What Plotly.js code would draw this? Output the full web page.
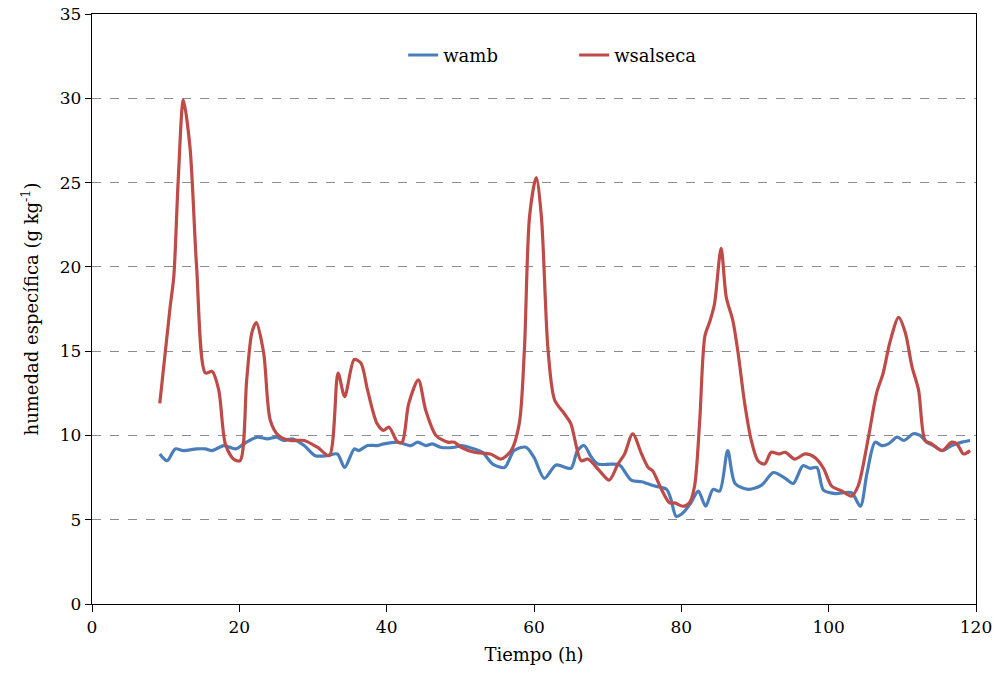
<!DOCTYPE html>
<html>
<head>
<meta charset="utf-8">
<script src="https://cdn.plot.ly/plotly-3.0.1.min.js"></script>
<style>html,body{margin:0;padding:0;background:#fff;}#chart{width:998px;height:682px;}</style>
</head>
<body>
<div id="chart"></div>
<script>
// wamb (ambient specific humidity)
const wambT = [9.2,10.2,11.3,12.4,14.2,15.4,16.3,17.9,19.5,20.6,22.4,23.8,25.1,26.0,27.2,28.8,30.3,31.9,33.3,34.3,35.6,36.2,37.4,38.7,39.6,41.5,43.3,44.2,45.3,46.2,47.3,49.2,50.1,51.9,53.0,54.4,56.0,57.3,58.9,60.0,61.4,63.0,65.0,65.9,66.8,67.8,68.7,70.5,71.6,73.2,74.6,76.4,78.0,78.6,79.3,80.2,81.3,82.3,83.3,84.3,85.2,86.3,87.3,89.1,90.9,92.5,94.1,95.2,96.5,97.5,98.4,99.3,100.9,103.1,104.3,105.2,106.3,107.2,108.1,109.3,110.2,111.5,112.4,113.3,114.2,115.4,116.7,118.1,119.2];
const wambV = [8.9,8.5,9.2,9.1,9.2,9.2,9.1,9.4,9.2,9.5,9.9,9.8,9.9,9.7,9.8,9.4,8.8,8.8,8.9,8.1,9.2,9.1,9.4,9.4,9.5,9.6,9.4,9.6,9.4,9.5,9.3,9.3,9.4,9.2,9.0,8.3,8.1,9.1,9.3,8.7,7.45,8.25,8.05,9.1,9.4,8.7,8.3,8.3,8.25,7.35,7.25,7.0,6.8,6.2,5.2,5.4,6.0,6.7,5.8,6.8,6.7,9.1,7.15,6.8,7.05,7.8,7.45,7.15,8.2,8.05,8.1,6.75,6.55,6.6,5.8,7.75,9.6,9.4,9.5,9.9,9.7,10.1,10.0,9.6,9.4,9.1,9.4,9.6,9.7];
// wsalseca (dryer outlet specific humidity)
const wsalT = [9.2,10.6,11.1,11.7,12.4,13.3,14.2,15.4,16.3,17.2,18.1,19.2,20.1,21.0,21.7,22.3,23.3,24.2,25.3,26.9,28.8,30.6,32.2,33.4,34.3,35.6,36.5,37.4,38.7,39.6,40.3,41.5,42.1,43.0,44.3,45.3,46.7,48.3,49.2,50.1,51.9,54.1,55.5,56.9,58.0,58.7,59.4,60.3,61.0,61.9,62.8,64.1,65.0,66.4,67.3,68.9,70.2,71.4,72.3,73.4,74.6,75.5,76.1,77.3,78.4,79.1,80.2,81.1,81.8,82.5,83.2,83.9,84.5,85.4,86.1,87.0,87.7,88.6,89.5,90.4,91.3,92.2,93.2,94.1,95.4,96.8,98.1,99.3,100.4,101.8,103.1,104.0,105.4,106.5,107.4,108.3,109.5,110.4,111.3,112.2,113.1,114.0,115.4,116.7,117.4,118.3,119.2];
const wsalV = [11.9,17.6,19.4,25.1,29.9,27.1,20.0,13.7,13.8,12.7,9.5,8.6,8.5,13.3,16.1,16.7,14.9,10.9,10.0,9.7,9.7,9.3,8.8,13.7,12.3,14.5,14.3,12.7,10.7,10.3,10.5,9.6,9.6,11.9,13.3,11.5,10.0,9.6,9.6,9.3,9.0,8.9,8.6,9.1,10.7,15.1,23.0,25.3,23.0,15.1,12.1,11.3,10.7,8.5,8.6,7.9,7.35,8.3,8.9,10.1,8.9,8.1,7.9,6.8,6.0,6.0,5.8,6.0,7.0,10.9,15.9,16.8,17.8,21.1,18.2,16.8,14.9,11.9,9.7,8.5,8.3,9.0,8.9,9.0,8.6,8.9,8.7,8.05,7.0,6.7,6.4,7.0,9.9,12.5,13.7,15.5,17.0,16.1,14.1,12.7,9.7,9.5,9.1,9.6,9.5,8.9,9.1];
const xTicks = [0,20,40,60,80,100,120];
const yTicks = [0,5,10,15,20,25,30,35];

const fontFam = 'DejaVu Serif';
const traces = [
  {x: wambT, y: wambV, name: 'wamb', mode: 'lines', line: {color: '#4A7EBB', width: 3.2, shape: 'spline', smoothing: 0.8}},
  {x: wsalT, y: wsalV, name: 'wsalseca', mode: 'lines', line: {color: '#BE4B48', width: 3.2, shape: 'spline', smoothing: 0.8}}
];
const layout = {
  width: 998, height: 682,
  margin: {l: 92, r: 22, t: 14, b: 78},
  paper_bgcolor: '#fff', plot_bgcolor: '#fff',
  font: {family: fontFam, size: 17, color: '#000'},
  showlegend: true,
  legend: {orientation: 'h', x: 0.352, xanchor: 'left', y: 0.93, yanchor: 'middle', font: {family: fontFam, size: 18}, bgcolor: 'rgba(0,0,0,0)', entrywidth: 126, entrywidthmode: 'pixels'},
  xaxis: {
    range: [0, 120], tickvals: xTicks, ticktext: xTicks.map(String),
    showgrid: false, zeroline: false, showline: true, linecolor: '#000', linewidth: 1.3, mirror: true,
    ticks: 'outside', ticklen: 7, tickcolor: '#000', tickfont: {family: fontFam, size: 17},
    title: {text: 'Tiempo (h)', font: {family: fontFam, size: 18}, standoff: 12}
  },
  yaxis: {
    range: [0, 35], tickvals: yTicks, ticktext: yTicks.map(String),
    showgrid: true, gridcolor: '#8c8c8c', griddash: 'dash', gridwidth: 1,
    zeroline: false, showline: true, linecolor: '#000', linewidth: 1.3, mirror: true,
    ticks: 'outside', ticklen: 6, tickcolor: '#000', tickfont: {family: fontFam, size: 17},
    title: {text: 'humedad específica (g kg<sup>-1</sup>)', font: {family: fontFam, size: 18}, standoff: 16}
  }
};
Plotly.newPlot('chart', traces, layout, {displayModeBar: false, staticPlot: true});
</script>
</body>
</html>
